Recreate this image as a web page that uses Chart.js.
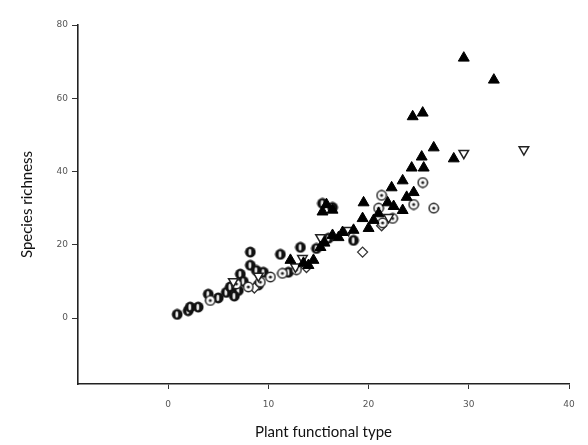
<!DOCTYPE html>
<html>
<head>
<meta charset="utf-8">
<script src="https://cdn.jsdelivr.net/npm/chart.js@4.4.1/dist/chart.umd.min.js"></script>
<style>
  html, body { margin: 0; padding: 0; background: #ffffff; }
  #wrap { width: 588px; height: 445px; position: relative; }
</style>
</head>
<body>
<div id="wrap"><canvas id="c" width="588" height="445"></canvas></div>
<script>
// Axis tick labels
const xTicks = [0, 10, 20, 30, 40];
const yTicks = [0, 20, 40, 60, 80];

// Filled triangles
const triX = [29.5, 32.5, 24.4, 25.4, 26.5, 25.3, 28.5, 24.3, 25.5, 23.4, 22.3, 24.5, 23.8, 19.5, 21.9, 23.4, 22.5, 20.5, 19.4, 21.0, 15.4, 16.4, 15.8, 17.4, 18.5, 16.4, 15.2, 15.6, 14.5, 14.0, 12.2, 13.5, 20.0, 17.0];
const triY = [71, 65, 55, 56, 46.5, 44, 43.5, 41, 41, 37.5, 35.6, 34.3, 33, 31.5, 31.5, 29.4, 30.5, 26.7, 27.2, 28.5, 29, 29.5, 31, 23.4, 24, 22.6, 19.3, 20.5, 15.8, 14.4, 15.8, 15, 24.5, 22];

// Open inverted triangles
const invX = [29.5, 35.5, 18.0, 15.2, 13.4, 12.7, 6.5, 9.0, 22.0];
const invY = [45, 46, 24, 22, 16.3, 14, 10, 11.5, 27.5];

// Half-filled circles
const halfX = [0.9, 2.0, 2.2, 3.0, 4.0, 5.0, 5.8, 6.2, 7.0, 7.2, 7.5, 8.2, 8.2, 8.8, 9.0, 9.5, 11.2, 12.0, 13.2, 15.4, 16.4, 16.0, 18.5, 14.8, 6.6];
const halfY = [1, 2, 3, 3, 6.5, 5.5, 7, 8.5, 7.5, 12, 10, 18, 14.4, 13, 9, 12.5, 17.4, 12.5, 19.3, 31.3, 30.2, 21.8, 21.2, 19, 6];

// Circles with a centre dot
const dotX = [4.2, 6.8, 9.2, 10.2, 11.4, 12.8, 21.3, 25.4, 24.5, 26.5, 21.4, 22.4, 21.0, 8.0];
const dotY = [4.8, 9.3, 9.8, 11.2, 12.2, 13.2, 33.5, 37, 31, 30, 26, 27.2, 30, 8.5];

// Open diamonds
const diaX = [19.4, 21.3, 8.6, 13.8];
const diaY = [18, 25.2, 8.2, 13.8];

function pts(xs, ys) { return xs.map((x, i) => ({ x: x, y: ys[i] })); }

// Custom marker glyphs drawn on small canvases
function halfCircle() {
  const c = document.createElement('canvas');
  c.width = 12; c.height = 12;
  const g = c.getContext('2d');
  g.fillStyle = '#111';
  g.beginPath(); g.arc(6, 6, 5.4, 0, Math.PI * 2); g.fill();
  g.fillStyle = '#fff';
  g.beginPath(); g.ellipse(5.6, 6, 1.3, 3.3, 0, 0, Math.PI * 2); g.fill();
  return c;
}
function dotCircle() {
  const c = document.createElement('canvas');
  c.width = 12; c.height = 12;
  const g = c.getContext('2d');
  g.fillStyle = '#fff';
  g.strokeStyle = '#222';
  g.lineWidth = 1.5;
  g.beginPath(); g.arc(6, 6, 4.7, 0, Math.PI * 2); g.fill(); g.stroke();
  g.fillStyle = '#222';
  g.beginPath(); g.arc(6, 6, 1.6, 0, Math.PI * 2); g.fill();
  return c;
}

const fixedSize = (prop, v) => function (scale) { scale[prop] = v; };

new Chart(document.getElementById('c'), {
  type: 'scatter',
  data: {
    datasets: [
      { label: 'triangles', data: pts(triX, triY), pointStyle: 'triangle', pointRadius: 6.3, backgroundColor: '#000', borderColor: '#000', borderWidth: 1 },
      { label: 'inverted', data: pts(invX, invY), pointStyle: 'triangle', rotation: 180, pointRadius: 5.5, backgroundColor: '#fff', borderColor: '#222', borderWidth: 1.5 },
      { label: 'dot', data: pts(dotX, dotY), pointStyle: dotCircle(), pointRadius: 6 },
      { label: 'diamond', data: pts(diaX, diaY), pointStyle: 'rectRot', pointRadius: 5, backgroundColor: '#fff', borderColor: '#333', borderWidth: 1.3 },
      { label: 'half', data: pts(halfX, halfY), pointStyle: halfCircle(), pointRadius: 6 }
    ]
  },
  options: {
    responsive: false,
    animation: false,
    events: [],
    layout: { padding: { top: 25, right: 19, bottom: 0, left: 0 } },
    plugins: { legend: { display: false }, tooltip: { enabled: false } },
    scales: {
      x: {
        type: 'linear', min: -9, max: 40,
        afterBuildTicks: s => { s.ticks = xTicks.map(v => ({ value: v })); },
        afterFit: fixedSize('height', 61),
        grid: { drawOnChartArea: false, drawTicks: true, tickLength: 5, color: '#333', lineWidth: 1 },
        border: { display: true, color: '#222', width: 1.6 },
        ticks: { color: '#555', font: { family: 'DejaVu Sans', size: 9 }, padding: 10, maxRotation: 0 },
        title: { display: true, text: 'Plant functional type', color: '#111', font: { family: 'Lato', size: 15 }, padding: { top: 0, bottom: 4 } }
      },
      y: {
        type: 'linear', min: -18, max: 80,
        afterBuildTicks: s => { s.ticks = yTicks.map(v => ({ value: v })); },
        afterFit: fixedSize('width', 78),
        grid: { drawOnChartArea: false, drawTicks: true, tickLength: 6, color: '#333', lineWidth: 1 },
        border: { display: true, color: '#222', width: 1.6 },
        ticks: { color: '#555', font: { family: 'DejaVu Sans', size: 9 }, padding: 4 },
        title: { display: true, text: 'Species richness', color: '#111', font: { family: 'Lato', size: 15 }, padding: { top: 18, bottom: 0 } }
      }
    }
  }
});
</script>
</body>
</html>
